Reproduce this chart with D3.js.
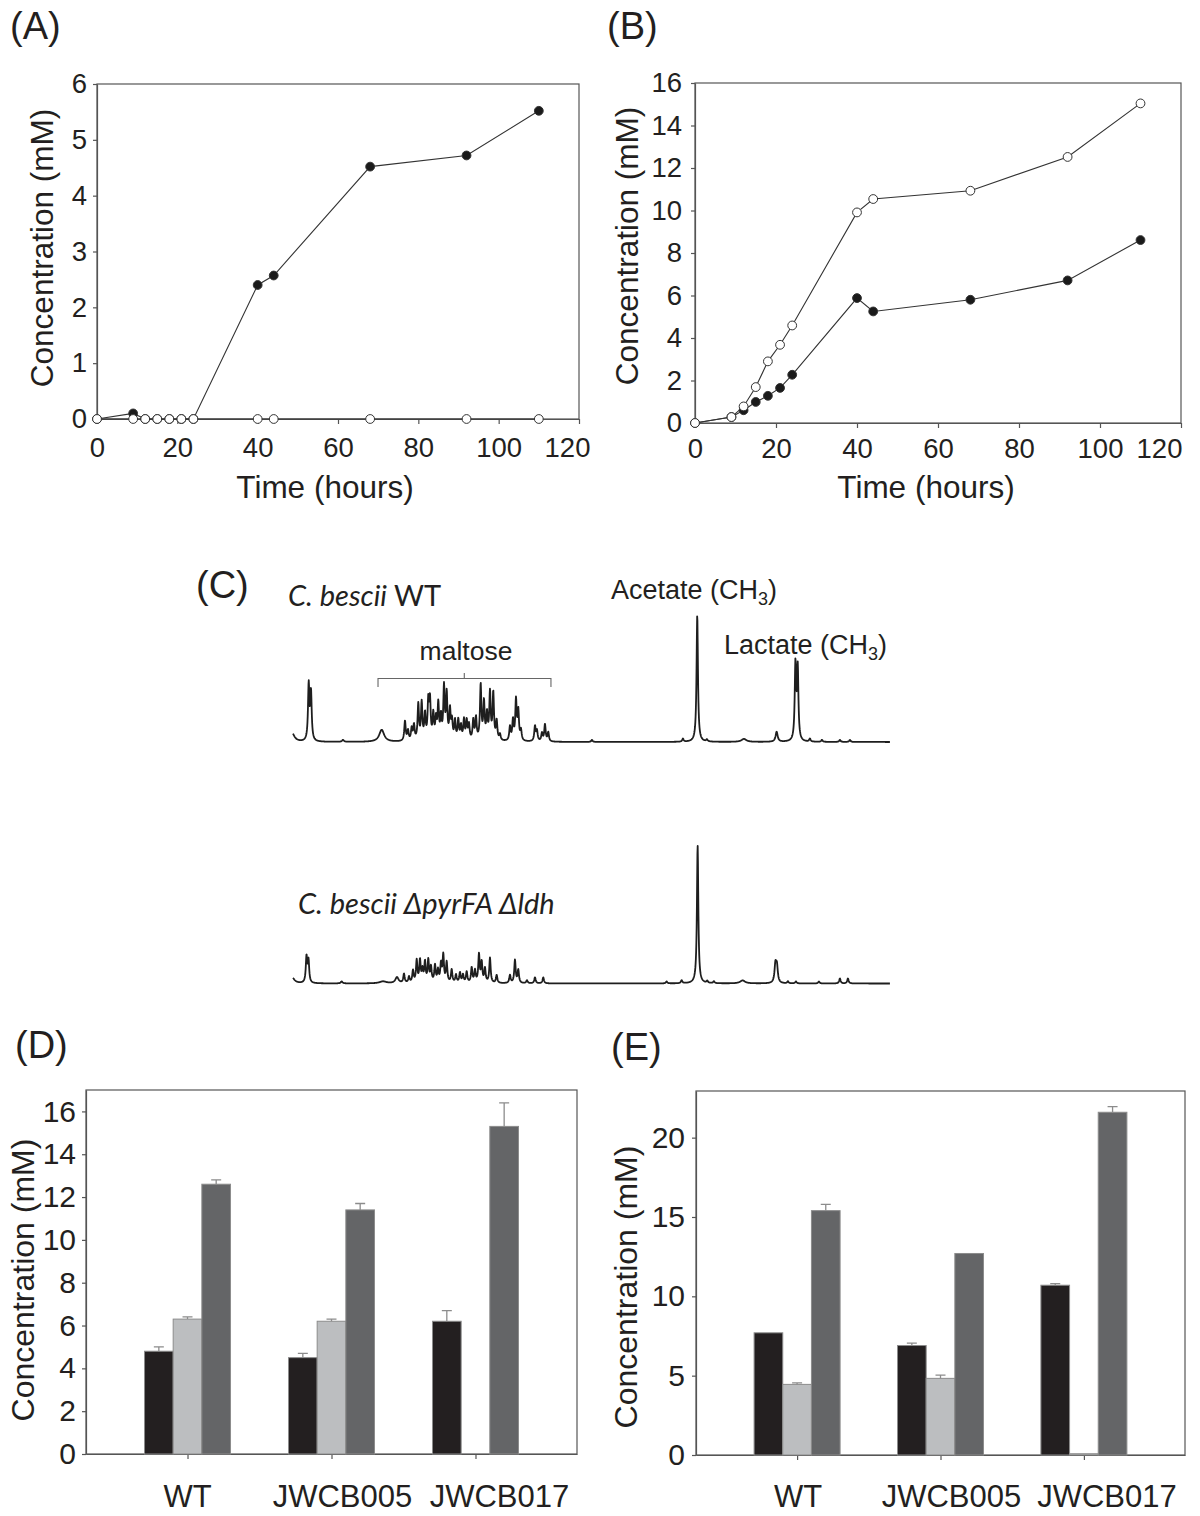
<!DOCTYPE html>
<html><head><meta charset="utf-8">
<script src="https://cdn.jsdelivr.net/npm/d3@7"></script>
<style>
body{margin:0;background:#fff}
svg{display:block}
text{font-family:'Liberation Sans',Arial,sans-serif;fill:#231f20}
</style>
</head><body>
<svg id="fig" width="1200" height="1516"></svg>
<script>
// ---------- Panel A data ----------
const timeA = [0, 9, 12, 15, 18, 21, 24, 40, 44, 68, 92, 110];
const filledA = [0, 0.1, 0, 0, 0, 0, 0, 2.4, 2.57, 4.52, 4.72, 5.52];
const openA = [0, 0, 0, 0, 0, 0, 0, 0, 0, 0, 0, 0];
const yTicksA = [0, 1, 2, 3, 4, 5, 6];
// ---------- Panel B data ----------
const timeB = [0, 9, 12, 15, 18, 21, 24, 40, 44, 68, 92, 110];
const filledB = [0, 0.28, 0.6, 0.99, 1.28, 1.65, 2.27, 5.88, 5.25, 5.8, 6.71, 8.61];
const openB = [0, 0.28, 0.78, 1.69, 2.9, 3.68, 4.59, 9.91, 10.54, 10.93, 12.52, 15.04];
const yTicksB = [0, 2, 4, 6, 8, 10, 12, 14, 16];
const xTicksTime = [0, 20, 40, 60, 80, 100, 120];
// ---------- Panel C data: 1H NMR peaks [shift ppm, intensity, half-width ppm (optional)] ----------
const peaksWT = [
  [4.2157, 9, 0.017], [4.1203, 56], [4.1072, 48], [3.9245, 2, 0.006], [3.7034, 12, 0.017],
  [3.5704, 20], [3.5532, 10], [3.5321, 12], [3.5190, 15], [3.4944, 36], [3.4750, 37],
  [3.4561, 25], [3.4373, 37], [3.4276, 38], [3.4087, 25], [3.3933, 20], [3.3802, 35],
  [3.3648, 22], [3.3476, 52], [3.3322, 45], [3.3134, 29], [3.3020, 18], [3.2848, 19],
  [3.2660, 20], [3.2506, 14], [3.2334, 20], [3.2180, 19], [3.2049, 15], [3.1803, 20],
  [3.1649, 22], [3.1380, 55], [3.1192, 37], [3.1021, 25], [3.0849, 47], [3.0661, 47],
  [3.0467, 19], [3.0278, 6], [2.9707, 14], [2.9536, 20], [2.9364, 40], [2.9233, 29],
  [2.9079, 10], [2.8279, 15], [2.8165, 10], [2.7880, 8], [2.7708, 17], [2.7520, 9],
  [2.5024, 2], [1.9827, 3], [1.9010, 127], [1.8456, 2], [1.6343, 3, 0.017],
  [1.4476, 10, 0.007], [1.3402, 76], [1.3271, 72], [1.2574, 3], [1.1889, 2], [1.0861, 2], [1.0290, 2]
];
const peaksLdh = [
  [4.2157, 6, 0.017], [4.1329, 26], [4.1215, 22], [3.9319, 2, 0.006], [3.6960, 2, 0.023],
  [3.6161, 6, 0.011], [3.5761, 9], [3.5475, 6], [3.5247, 12], [3.5035, 22], [3.4847, 22],
  [3.4704, 12], [3.4561, 20], [3.4373, 22], [3.4219, 15], [3.3990, 17], [3.3819, 12],
  [3.3648, 18], [3.3516, 27], [3.3322, 20], [3.3037, 13], [3.2791, 8], [3.2563, 10],
  [3.2391, 8], [3.2180, 11], [3.1894, 15], [3.1706, 12], [3.1478, 28], [3.1323, 20],
  [3.1135, 14], [3.0849, 25], [3.0467, 8], [2.9707, 8], [2.9422, 23], [2.9233, 13],
  [2.8736, 3], [2.8279, 6], [2.7805, 6], [2.0758, 2], [1.9901, 3], [1.8988, 138],
  [1.8440, 2], [1.8057, 2], [1.6418, 3, 0.017], [1.4545, 18, 0.006], [1.4459, 16, 0.006],
  [1.3830, 2], [1.3374, 2], [1.2061, 2], [1.0861, 5], [1.0404, 5]
];
const shiftDomain = [4.21, 0.80];
// ---------- Panels D/E data ----------
const strains = ["WT", "JWCB005", "JWCB017"];
const dBlack = [4.8, 4.5, 6.2], dLight = [6.3, 6.2, 0], dDark = [12.6, 11.4, 15.3];
const dBlackErr = [0.2, 0.2, 0.5], dLightErr = [0.1, 0.1, 0], dDarkErr = [0.2, 0.3, 1.1];
const eBlack = [7.7, 6.9, 10.7], eLight = [4.45, 4.83, 0.08], eDark = [15.4, 12.7, 21.6];
const eBlackErr = [0, 0.15, 0.1], eLightErr = [0.1, 0.2, 0], eDarkErr = [0.4, 0, 0.35];
const yTicksD = [0, 2, 4, 6, 8, 10, 12, 14, 16];
const yTicksE = [0, 5, 10, 15, 20];
const barColors = ["#231f20", "#bcbec0", "#646567"];

const svg = d3.select("#fig");
const AX = "#555";

function styleAxis(g, fs) {
  g.select(".domain").attr("stroke", AX).attr("stroke-width", 1.2);
  g.selectAll(".tick line").attr("stroke", AX).attr("stroke-width", 1.2);
  g.selectAll(".tick text").attr("font-size", fs).attr("fill", "#231f20")
    .attr("font-family", "'Liberation Sans',Arial,sans-serif");
}

function panelLabel(t, x, y) {
  svg.append("text").attr("x", x).attr("y", y).attr("font-size", 38).text(t);
}

// ---------- Line panels ----------
function linePanel(o) {
  const x = d3.scaleLinear().domain([0, 120]).range([o.left, o.right]);
  const y = d3.scaleLinear().domain([0, o.ymax]).range([o.bottom, o.top]);
  const g = svg.append("g");
  g.append("rect").attr("x", o.left).attr("y", o.top).attr("width", o.right - o.left)
    .attr("height", o.bottom - o.top).attr("fill", "none").attr("stroke", AX).attr("stroke-width", 1.2);
  const gx = g.append("g").attr("transform", `translate(0,${o.bottom})`)
    .call(d3.axisBottom(x).tickValues(xTicksTime).tickFormat(d3.format("d"))
      .tickSize(5).tickSizeOuter(0).tickPadding(o.xpad));
  styleAxis(gx, 27.5);
  gx.selectAll(".tick text").filter(d => d === 120).attr("dx", o.lastShift);
  const gy = g.append("g").attr("transform", `translate(${o.left},0)`)
    .call(d3.axisLeft(y).tickValues(o.yTicks).tickFormat(d3.format("d"))
      .tickSize(4).tickSizeOuter(0).tickPadding(o.ypad));
  styleAxis(gy, 27.5);
  const line = d3.line().x(d => x(d[0])).y(d => y(d[1]));
  const series = [
    {pts: o.t.map((t, i) => [t, o.filled[i]]), fill: "#1a1a1a"},
    {pts: o.t.map((t, i) => [t, o.open[i]]), fill: "#fff"}
  ];
  series.forEach(s => {
    g.append("path").attr("d", line(s.pts)).attr("fill", "none").attr("stroke", "#333").attr("stroke-width", 1.1);
  });
  series.forEach(s => {
    g.selectAll(null).data(s.pts).enter().append("circle")
      .attr("cx", d => x(d[0])).attr("cy", d => y(d[1])).attr("r", 4.4)
      .attr("fill", s.fill).attr("stroke", "#333").attr("stroke-width", 1);
  });
  g.append("text").attr("x", (o.left + o.right) / 2 + o.xtShift).attr("y", 498)
    .attr("text-anchor", "middle").attr("font-size", 31.5).text("Time (hours)");
  g.append("text").attr("transform", `translate(${o.ytx},${o.yty}) rotate(-90)`)
    .attr("text-anchor", "middle").attr("font-size", 31.5).text("Concentration (mM)");
}

linePanel({left: 97, right: 579, top: 84, bottom: 419, ymax: 6, yTicks: yTicksA,
  t: timeA, filled: filledA, open: openA, xpad: 13, ypad: 6, xtShift: -13, ytx: 53, yty: 248, lastShift: -12});
linePanel({left: 695, right: 1181, top: 83, bottom: 423, ymax: 16, yTicks: yTicksB,
  t: timeB, filled: filledB, open: openB, xpad: 10, ypad: 9, xtShift: -12, ytx: 638, yty: 246, lastShift: -22});
panelLabel("(A)", 10, 39);
panelLabel("(B)", 607, 39);

// ---------- Panel C: NMR spectra ----------
const xs = d3.scaleLinear().domain(shiftDomain).range([293, 890]);
function spectrum(peaks, baseline) {
  const ys = d3.scaleLinear().domain([0, 140]).range([baseline, baseline - 140]);
  const grid = d3.range(shiftDomain[0], shiftDomain[1], -0.0015);
  const pts = grid.map(p => {
    let v = 0;
    peaks.forEach(pk => {
      const w = pk[2] || 0.0047;
      const d = p - pk[0];
      v += pk[1] * (w * w) / (d * d + w * w);
    });
    return [p, v];
  });
  svg.append("path").attr("d", d3.line().x(d => xs(d[0])).y(d => ys(d[1]))(pts))
    .attr("fill", "none").attr("stroke", "#1e1e1e").attr("stroke-width", 1.8).attr("stroke-linejoin", "round");
}
spectrum(peaksWT, 742);
spectrum(peaksLdh, 983.5);

panelLabel("(C)", 196, 598);
const sp1 = svg.append("text").attr("x", 288).attr("y", 606).attr("font-size", 29)
  .style("font-family", "Lato, 'Open Sans', sans-serif");
sp1.append("tspan").attr("font-style", "italic").text("C. bescii");
sp1.append("tspan").text(" WT");
svg.append("text").attr("x", 298).attr("y", 914).attr("font-size", 29).attr("font-style", "italic")
  .style("font-family", "Lato, 'Open Sans', sans-serif").text("C. bescii ΔpyrFA Δldh");
svg.append("text").attr("x", 466).attr("y", 660).attr("text-anchor", "middle").attr("font-size", 26.5).text("maltose");
// bracket
const bx0 = xs(3.7244), bx1 = xs(2.7366), bxm = xs(3.2316);
svg.append("path").attr("d", `M${bx0},687 V678.5 H${bx1} V687 M${bxm},678.5 V673`)
  .attr("fill", "none").attr("stroke", "#666").attr("stroke-width", 1.1);
function chemLabel(txt, x, y) {
  const t = svg.append("text").attr("x", x).attr("y", y).attr("font-size", 27);
  t.append("tspan").text(txt + " (CH");
  t.append("tspan").attr("font-size", 18).attr("dy", 6).text("3");
  t.append("tspan").attr("dy", -6).text(")");
}
chemLabel("Acetate", 611, 599);
chemLabel("Lactate", 724, 654);

// ---------- Bar panels ----------
function barPanel(o) {
  const x = d3.scalePoint().domain(strains).range([o.left, o.right]).padding(0.705);
  const inner = d3.scaleBand().domain([0, 1, 2]).range([-43, 43]).padding(0);
  const y = d3.scaleLinear().domain([0, o.ymax]).range([o.bottom, o.top]);
  const g = svg.append("g");
  g.append("rect").attr("x", o.left).attr("y", o.top).attr("width", o.right - o.left)
    .attr("height", o.bottom - o.top).attr("fill", "none").attr("stroke", AX).attr("stroke-width", 1.2);
  const gy = g.append("g").attr("transform", `translate(${o.left},0)`)
    .call(d3.axisLeft(y).tickValues(o.yTicks).tickSize(4).tickSizeOuter(0).tickPadding(o.ypad));
  styleAxis(gy, 30);
  const gx = g.append("g").attr("transform", `translate(0,${o.bottom})`)
    .call(d3.axisBottom(x).tickSize(5).tickSizeOuter(0).tickFormat(""));
  styleAxis(gx, 30);
  const series = [o.black, o.light, o.dark];
  const errs = [o.blackErr, o.lightErr, o.darkErr];
  series.forEach((vals, j) => {
    vals.forEach((v, i) => {
      const bx = x(strains[i]) + inner(j);
      if (v > 0) {
        g.append("rect").attr("x", bx).attr("y", y(v)).attr("width", inner.bandwidth())
          .attr("height", y(0) - y(v)).attr("fill", barColors[j]).attr("stroke", "#8c8c8c").attr("stroke-width", 1);
      }
      const e = errs[j][i];
      if (e > 0) {
        const cx = bx + inner.bandwidth() / 2;
        g.append("path").attr("d", `M${cx},${y(v)} V${y(v + e)} M${cx - 5},${y(v + e)} H${cx + 5}`)
          .attr("stroke", "#8c8c8c").attr("stroke-width", 1.3).attr("fill", "none");
      }
    });
  });
  strains.forEach((s, i) => {
    g.append("text").attr("x", x(s) + o.labShift[i]).attr("y", 1507).attr("text-anchor", "middle")
      .attr("font-size", 31).text(s);
  });
  g.append("text").attr("transform", `translate(${o.ytx},${o.yty}) rotate(-90)`)
    .attr("text-anchor", "middle").attr("font-size", 32).text("Concentration (mM)");
}
barPanel({left: 86, right: 577, top: 1090, bottom: 1454, ymax: 17, yTicks: yTicksD,
  black: dBlack, light: dLight, dark: dDark, blackErr: dBlackErr, lightErr: dLightErr, darkErr: dDarkErr,
  ypad: 6, labShift: [0, 11, 24], ytx: 34, yty: 1280});
barPanel({left: 696, right: 1185, top: 1091, bottom: 1455, ymax: 22.94, yTicks: yTicksE,
  black: eBlack, light: eLight, dark: eDark, blackErr: eBlackErr, lightErr: eLightErr, darkErr: eDarkErr,
  ypad: 7, labShift: [1, 11, 23], ytx: 637, yty: 1287});
panelLabel("(D)", 15, 1058);
panelLabel("(E)", 611, 1060);
</script>
</body></html>
